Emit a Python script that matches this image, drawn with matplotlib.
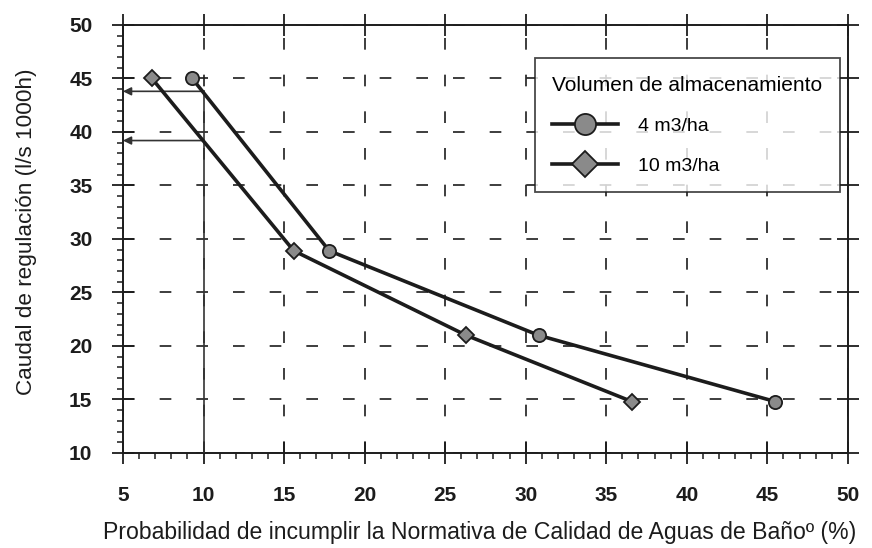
import matplotlib.pyplot as plt
from matplotlib.ticker import MultipleLocator

plt.rcParams['font.family'] = ['Liberation Sans', 'DejaVu Sans']

# datos
prob_4 = [9.3, 17.8, 30.8, 45.5]
caudal_4 = [45, 28.9, 21, 14.8]
prob_10 = [6.8, 15.6, 26.3, 36.6]
caudal_10 = [45, 28.9, 21, 14.8]

# lectura para 10% de probabilidad
prob_ref = 10
caudal_ref = [43.8, 39.2]

ink = '#1c1c1c'

fig = plt.figure(figsize=(8.72, 5.48), dpi=100)
ax = fig.add_axes([0.141, 0.1734, 0.8314, 0.781])

ax.plot(prob_4, caudal_4, '-o', color=ink, lw=2.6, ms=9.5,
        mfc='#8a8a8a', mec=ink, mew=1.3, label='4 m3/ha', zorder=4)
ax.plot(prob_10, caudal_10, '-D', color=ink, lw=2.6, ms=8.5,
        mfc='#8a8a8a', mec=ink, mew=1.3, label='10 m3/ha', zorder=4)

# linea vertical y flechas
ax.plot([prob_ref, prob_ref], [10, max(caudal_ref)], color='#333333', lw=1.2, zorder=3)
for c in caudal_ref:
    ax.annotate('', xy=(5, c), xytext=(prob_ref, c),
                arrowprops=dict(arrowstyle='-|>', color='#333333', lw=1.2,
                                mutation_scale=12, shrinkA=0, shrinkB=0))

ax.set_xlim(5, 50)
ax.set_ylim(10, 50)
ax.xaxis.set_major_locator(MultipleLocator(5))
ax.xaxis.set_minor_locator(MultipleLocator(1))
ax.yaxis.set_major_locator(MultipleLocator(5))
ax.yaxis.set_minor_locator(MultipleLocator(1))
ax.tick_params(which='major', direction='inout', length=16, width=1.3,
               labelsize=15, top=True, right=True, colors=ink)
ax.tick_params(axis='x', which='major', pad=16)
ax.tick_params(axis='y', which='major', pad=14)
ax.tick_params(which='minor', direction='out', length=4.5, width=1.1, colors=ink)
ax.tick_params(axis='y', which='minor', right=False)
ax.tick_params(axis='x', which='minor', top=False)
for lab in ax.get_xticklabels() + ax.get_yticklabels():
    lab.set_fontweight('bold')
ax.grid(True, which='major', color=ink, lw=1.2, linestyle=(0, (7, 15)))
for s in ax.spines.values():
    s.set_color(ink)
    s.set_linewidth(1.4)

ax.set_xlabel('Probabilidad de incumplir la Normativa de Calidad de Aguas de Bañoº (%)',
              fontsize=16.6, color=ink)
ax.set_ylabel('Caudal de regulación (l/s 1000h)', fontsize=16.2, color=ink)
ax.xaxis.set_label_coords(0.492, -0.16)
ax.yaxis.set_label_coords(-0.118, 0.518)

leg = ax.legend(title='Volumen de almacenamiento', loc='upper right',
                bbox_to_anchor=(0.989, 0.922), fontsize=14, title_fontsize=15,
                frameon=True, fancybox=False, edgecolor=ink,
                handlelength=3.4, borderpad=0.9, labelspacing=1.15,
                handletextpad=1.0, markerscale=1.6, borderaxespad=0)
leg.get_frame().set_linewidth(1.3)
leg._legend_box.align = 'left'

fig.savefig('out.png', dpi=100)
